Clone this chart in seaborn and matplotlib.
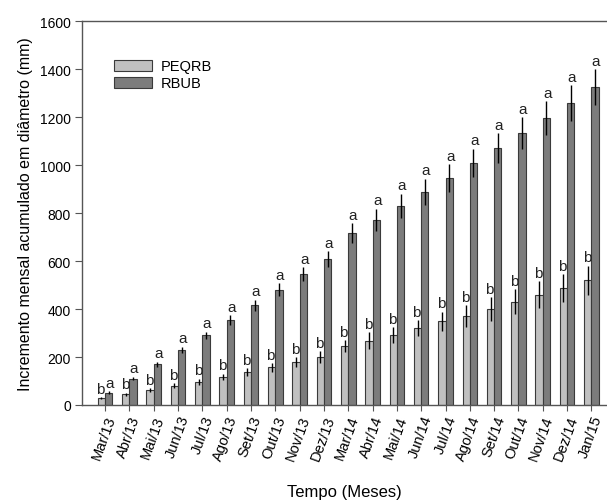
import matplotlib
matplotlib.use("Agg")
import matplotlib.pyplot as plt
import seaborn as sns
import pandas as pd
import numpy as np

months = ["Mar/13", "Abr/13", "Mai/13", "Jun/13", "Jul/13", "Ago/13", "Set/13", "Out/13",
          "Nov/13", "Dez/13", "Mar/14", "Abr/14", "Mai/14", "Jun/14", "Jul/14", "Ago/14",
          "Set/14", "Out/14", "Nov/14", "Dez/14", "Jan/15"]
peqrb = [28, 45, 62, 80, 97, 117, 137, 157, 180, 200, 246, 268, 292, 321, 348, 371, 400, 430, 460, 487, 520]
rbub = [52, 110, 170, 230, 290, 355, 415, 480, 545, 607, 715, 772, 830, 888, 946, 1008, 1071, 1133, 1196, 1258, 1325]
peqrb_err = [5, 6, 8, 10, 12, 14, 16, 18, 20, 25, 25, 35, 33, 33, 40, 45, 48, 52, 55, 58, 60]
rbub_err = [5, 7, 10, 13, 16, 20, 24, 27, 30, 33, 42, 45, 50, 55, 57, 60, 62, 66, 70, 75, 75]
peqrb_letters = ["b"] * 21
rbub_letters = ["a"] * 21
series = ["PEQRB", "RBUB"]

plt.rcParams['font.family'] = ['Liberation Sans', 'DejaVu Sans']

df = pd.DataFrame({
    "Mes": months * 2,
    "Valor": peqrb + rbub,
    "Serie": [series[0]] * len(months) + [series[1]] * len(months),
})

fig = plt.figure(figsize=(6.07, 5.02), dpi=100)
ax = fig.add_axes([82 / 607, 96 / 502, (606 - 82) / 607, (406 - 22) / 502])

sns.barplot(data=df, x="Mes", y="Valor", hue="Serie", order=months, hue_order=series,
            palette=["#c0c0c0", "#7c7c7c"], width=0.6, errorbar=None,
            edgecolor="#3a3a3a", linewidth=0.8, ax=ax, saturation=1)

bar_containers = list(ax.containers)
errs = [peqrb_err, rbub_err]
letters = [peqrb_letters, rbub_letters]
vals = [peqrb, rbub]
shifts = [-0.04, 0.04]
for ci, cont in enumerate(bar_containers):
    for i, bar in enumerate(cont):
        x = bar.get_x() + bar.get_width() / 2
        v = vals[ci][i]
        e = errs[ci][i]
        ax.errorbar(x, v, yerr=e, color="black", linewidth=1.0, capsize=0)
        ax.text(x + shifts[ci], v + e + 6, letters[ci][i], ha="center", va="bottom",
                fontsize=11, color="#222222")

ax.set_ylim(0, 1600)
ax.set_xlim(-0.95, 20.6)
ax.set_yticks(range(0, 1601, 200))
ax.tick_params(axis="y", labelsize=10, direction="out", length=5, color="#555555", pad=3)
ax.tick_params(axis="x", labelsize=10.5, direction="out", length=4, color="#555555", pad=2)
for lab in ax.get_xticklabels():
    lab.set_rotation(70)
    lab.set_ha("right")
    lab.set_rotation_mode("anchor")

ax.set_xlabel("Tempo (Meses)", fontsize=12, labelpad=16)
ax.set_ylabel("Incremento mensal acumulado em diâmetro (mm)", fontsize=11.5, labelpad=5)

for s in ["left", "top", "bottom"]:
    ax.spines[s].set_color("#555555")
    ax.spines[s].set_linewidth(1.0)
ax.spines["right"].set_visible(False)

leg = ax.legend(loc="upper left", bbox_to_anchor=(0.05, 0.915), frameon=False, fontsize=10.5,
                handlelength=2.6, handleheight=0.85, labelspacing=0.2, borderaxespad=0,
                handletextpad=0.6)

fig.savefig("out.png", dpi=100)
